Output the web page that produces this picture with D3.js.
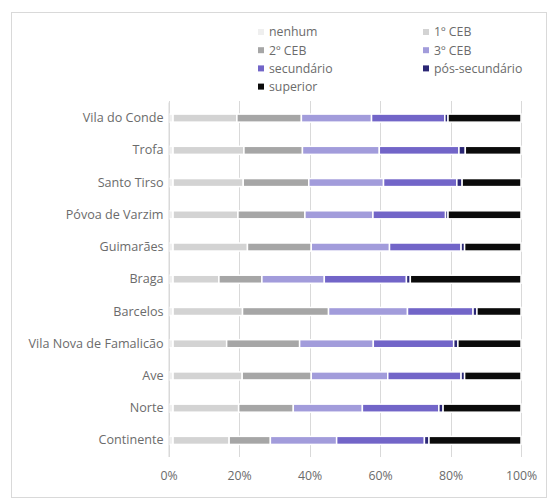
<!DOCTYPE html>
<html><head><meta charset="utf-8">
<script src="https://cdn.jsdelivr.net/npm/d3@7"></script>
<style>body{margin:0;background:#fff}svg{display:block}text{font-family:"Open Sans",Lato,sans-serif}</style>
</head><body><svg id="c" width="549" height="500"></svg>
<script>
const categories = ["Vila do Conde","Trofa","Santo Tirso","Póvoa de Varzim","Guimarães","Braga","Barcelos","Vila Nova de Famalicão","Ave","Norte","Continente"];
const seriesNames = ["nenhum","1º CEB","2º CEB","3º CEB","secundário","pós-secundário","superior"];
const nenhum      = [1.3,1.3,1.3,1.3,1.3,1.3,1.3,1.3,1.3,1.3,1.3];
const ceb1        = [18.1,20.1,19.9,18.4,21.1,13.0,19.7,15.2,19.6,18.6,15.9];
const ceb2        = [18.3,16.6,18.6,19.0,18.1,12.2,24.4,20.7,19.6,15.5,11.7];
const ceb3        = [19.9,21.8,21.2,19.3,22.2,17.7,22.4,20.9,21.7,19.6,18.8];
const secundario  = [20.8,22.6,20.8,20.6,20.3,23.3,18.6,22.8,20.8,21.7,24.9];
const posSec      = [0.9,1.8,1.5,0.7,1.0,1.1,1.1,1.2,1.0,1.2,1.3];
const superior    = [20.7,15.8,16.7,20.7,16.0,31.4,12.5,17.9,16.0,22.1,26.1];
const xTicks = [0,0.2,0.4,0.6,0.8,1.0];
const colors = ["#efefef","#d3d3d3","#a6a6a6","#a29cdb","#7265c8","#2b2775","#0b0b0b"];

const seriesVals = [nenhum,ceb1,ceb2,ceb3,secundario,posSec,superior];
const rows = categories.map((c,i)=>{const o={cat:c}; seriesNames.forEach((s,j)=>o[s]=seriesVals[j][i]); return o;});
const stack = d3.stack().keys(seriesNames).offset(d3.stackOffsetExpand)(rows);

const svg = d3.select("#c");
svg.append("rect").attr("x",11.5).attr("y",12.5).attr("width",535).attr("height",485)
  .attr("fill","#fff").attr("stroke","#d9d9d9").attr("stroke-width",1);

const x = d3.scaleLinear().domain([0,1]).range([168.5,521]);
const y = d3.scaleBand().domain(categories).range([102,456.5]).paddingInner(0.75).paddingOuter(0.375);

svg.append("g").selectAll("line").data(xTicks).join("line")
  .attr("x1",d=>Math.round(x(d))+0.5).attr("x2",d=>Math.round(x(d))+0.5)
  .attr("y1",101).attr("y2",457).attr("stroke","#d9d9d9").attr("stroke-width",1);

svg.append("g").selectAll("g").data(stack).join("g")
  .attr("fill",(d,i)=>colors[i])
  .selectAll("rect").data(d=>d).join("rect")
  .attr("x",d=>x(d[0])).attr("width",d=>Math.max(0,x(d[1])-x(d[0])))
  .attr("y",d=>y(d.data.cat)).attr("height",y.bandwidth())
  .attr("stroke","#fff").attr("stroke-width",1.5);

const ya = svg.append("g").attr("transform",`translate(${x(0)},0)`).call(d3.axisLeft(y).tickSize(0).tickPadding(5));
ya.select(".domain").attr("stroke","#d9d9d9");
ya.selectAll("text").attr("font-size",12.6).attr("fill","#6b6b6b");

const xa = svg.append("g").attr("transform","translate(0,468)")
  .call(d3.axisBottom(x).tickValues(xTicks).tickFormat(d3.format(".0%")).tickSize(0));
xa.select(".domain").remove();
xa.selectAll("text").attr("font-size",12.3).attr("fill","#6b6b6b");

const leg = svg.append("g");
seriesNames.forEach((s,i)=>{
  const col = i%2, row = Math.floor(i/2);
  const lx = col===0 ? 258 : 423, ly = 32 + row*18.2;
  leg.append("rect").attr("x",lx).attr("y",ly-3).attr("width",6).attr("height",6).attr("fill",colors[i]);
  leg.append("text").attr("x",lx+11).attr("y",ly).attr("dy","0.35em")
    .attr("font-size",12.3).attr("fill","#6b6b6b").text(s);
});
</script></body></html>
